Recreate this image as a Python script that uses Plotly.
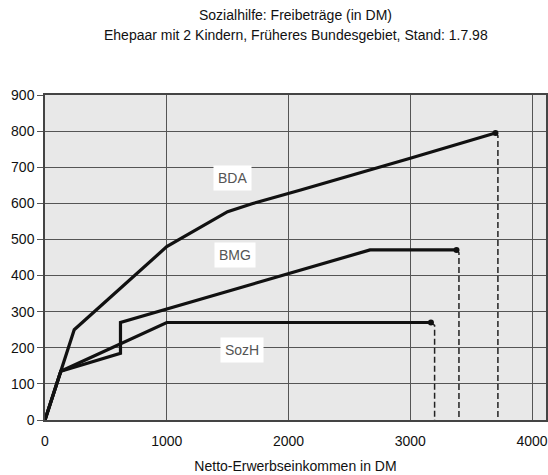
import plotly.graph_objects as go

# Data (DM)
bda_x = [0, 130, 240, 1000, 1500, 1700, 2100, 3000, 3700]
bda_y = [0, 135, 250, 480, 577, 599, 637, 725, 795]
bmg_x = [0, 130, 620, 620, 2670, 3380]
bmg_y = [0, 135, 185, 270, 471, 471]
sozh_x = [0, 130, 1000, 3170]
sozh_y = [0, 135, 270, 270]

# dashed drop lines at the end of each curve
drop_sozh_x = [3170, 3200, 3200]
drop_sozh_y = [270, 262, 0]
drop_bmg_x = [3380, 3400, 3400]
drop_bmg_y = [471, 463, 0]
drop_bda_x = [3700, 3720, 3720]
drop_bda_y = [795, 787, 0]

labels = ["BDA", "BMG", "SozH"]
label_x = [1540, 1560, 1620]
label_y = [670, 457, 194]

x_ticks = [0, 1000, 2000, 3000, 4000]
y_ticks = [0, 100, 200, 300, 400, 500, 600, 700, 800, 900]

title1 = "Sozialhilfe: Freibeträge (in DM)"
title2 = "Ehepaar mit 2 Kindern, Früheres Bundesgebiet, Stand: 1.7.98"
x_title = "Netto-Erwerbseinkommen in DM"

FONT = "Liberation Sans, Arial, sans-serif"

fig = go.Figure()
for dx, dy in [(drop_sozh_x, drop_sozh_y), (drop_bmg_x, drop_bmg_y), (drop_bda_x, drop_bda_y)]:
    fig.add_trace(go.Scatter(x=dx, y=dy, mode="lines",
                             line=dict(color="#222", width=1.5, dash="6px,3px"),
                             hoverinfo="skip", showlegend=False))

for xs, ys in [(bda_x, bda_y), (bmg_x, bmg_y), (sozh_x, sozh_y)]:
    fig.add_trace(go.Scatter(x=xs, y=ys, mode="lines",
                             line=dict(color="#111", width=3.2),
                             showlegend=False))
    fig.add_trace(go.Scatter(x=[xs[-1]], y=[ys[-1]], mode="markers",
                             marker=dict(color="#111", size=6),
                             showlegend=False))

for t, lx, ly in zip(labels, label_x, label_y):
    fig.add_annotation(x=lx, y=ly, text=t, showarrow=False,
                       font=dict(family=FONT, size=14, color="#555"),
                       bgcolor="white", borderpad=4)

for t, ty in [(title1, 1.246), (title2, 1.185)]:
    fig.add_annotation(x=0.5, y=ty, xref="paper", yref="paper", yanchor="middle",
                       text=t, showarrow=False,
                       font=dict(family=FONT, size=14, color="#111"))

fig.update_layout(
    width=548, height=475,
    margin=dict(l=45, r=2, t=95, b=55),
    paper_bgcolor="white",
    plot_bgcolor="#e8e8e8",
    font=dict(family=FONT, size=14, color="#111"),
    xaxis=dict(range=[0, 4115], tickvals=x_ticks, showgrid=True, automargin=False,
               gridcolor="#555", gridwidth=1.3, zeroline=False,
               showline=True, linecolor="#444", linewidth=1.5, mirror=True,
               ticks="outside", ticklen=7, tickcolor="rgba(0,0,0,0)",
               title=dict(text=x_title, font=dict(size=14), standoff=14)),
    yaxis=dict(range=[0, 900], tickvals=y_ticks, showgrid=True, automargin=False,
               gridcolor="#555", gridwidth=1.3, zeroline=False,
               showline=True, linecolor="#444", linewidth=1.5, mirror=True,
               ticks="outside", ticklen=6, tickcolor="#555"),
)

fig.write_html("out.html", config={"displayModeBar": False},
               post_script="document.body.style.margin='0';")
